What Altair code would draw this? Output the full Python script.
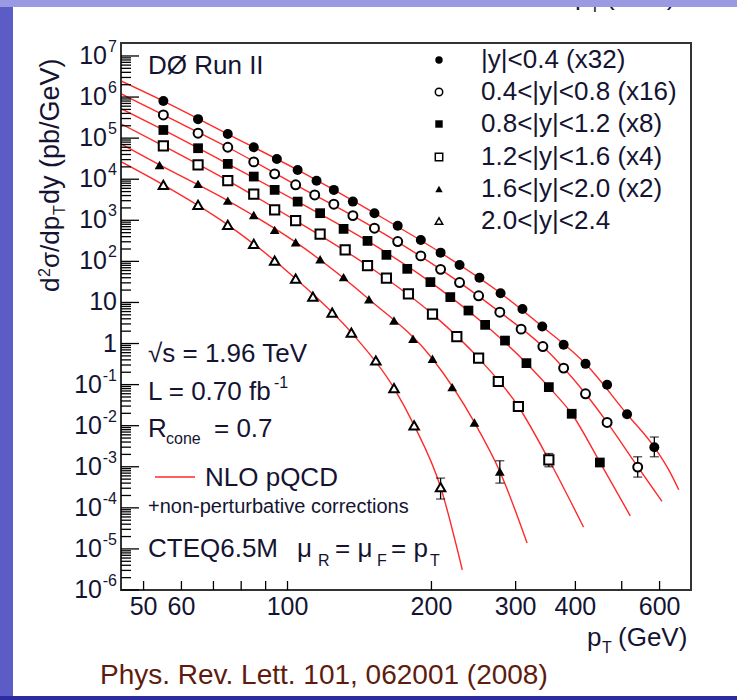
import altair as alt
import pandas as pd

# ---------------- data ----------------
labels = ["|y|<0.4 (x32)", "0.4<|y|<0.8 (x16)", "0.8<|y|<1.2 (x8)",
          "1.2<|y|<1.6 (x4)", "1.6<|y|<2.0 (x2)", "2.0<|y|<2.4"]

pt_1 = [55, 65, 75, 85, 95, 105, 115, 125, 137, 152, 170, 190, 209, 229, 252, 279, 310, 341, 378, 420, 466, 513, 585]
xs_1 = [8.0e5, 2.9e5, 1.26e5, 6.0e4, 3.1e4, 1.68e4, 9.2e3, 5.5e3, 2.85e3, 1.49e3, 7.4e2, 3.3e2, 1.63e2, 82, 40, 16.8, 6.9, 2.6, 0.93, 0.32, 0.099, 0.019, 3.0e-3]

pt_2 = [55, 65, 75, 85, 94, 104, 114, 125, 137, 152, 170, 190, 209, 229, 251, 278, 308, 342, 378, 420, 466, 540]
xs_2 = [3.67e5, 1.32e5, 6.0e4, 2.64e4, 1.35e4, 7.3e3, 4.15e3, 2.47e3, 1.30e3, 643, 303, 136, 63.9, 30.5, 14.5, 5.8, 2.24, 0.845, 0.252, 0.0597, 0.0120, 9.8e-4]

pt_3 = [55, 65, 75, 85, 94, 105, 117, 131, 147, 161, 178, 199, 219, 239, 259, 285, 316, 352, 393, 450]
xs_3 = [1.58e5, 5.68e4, 2.36e4, 1.16e4, 5.5e3, 2.85e3, 1.49e3, 618, 315, 144, 65.8, 31.3, 13.5, 6.35, 2.85, 1.18, 0.333, 0.0869, 0.0195, 1.27e-3]

pt_4 = [55, 65, 75, 85, 94, 104, 117, 132, 147, 161, 179, 201, 226, 251, 276, 304, 352]
xs_4 = [6.46e4, 2.23e4, 9.25e3, 4.32e3, 1.79e3, 984, 459, 190, 79, 39, 16.2, 5.19, 1.48, 0.441, 0.119, 0.0293, 1.48e-3]

pt_5 = [54, 65, 75, 85, 94, 104, 117, 131, 148, 167, 183, 201, 221, 246, 278]
xs_5 = [2.23e4, 7.69e3, 3.01e3, 1.35e3, 584, 293, 113, 41.3, 12.0, 3.63, 1.31, 0.425, 0.0869, 0.0120, 7.7e-4]

pt_6 = [55, 65, 75, 85, 94, 104, 113, 124, 136, 153, 167, 184, 209]
xs_6 = [7.26e3, 2.37e3, 773, 267, 104, 37.9, 13.9, 5.68, 1.85, 0.386, 0.0822, 0.0102, 3.2e-4]

# NLO pQCD curves (nodes)
cpt_1 = [44.85, 55, 75, 105, 152, 209, 279, 341, 420, 513, 585, 630, 658]
cxs_1 = [2.47e6, 8.0e5, 1.26e5, 1.68e4, 1.49e3, 1.63e2, 16.8, 2.6, 0.32, 0.019, 3.0e-3, 7.6e-4, 2.75e-4]
cpt_2 = [44.85, 55, 75, 104, 152, 209, 278, 342, 420, 466, 540, 607]
cxs_2 = [1.21e6, 3.67e5, 6.0e4, 7.3e3, 643, 63.9, 5.8, 0.845, 0.0597, 0.0120, 1.0e-3, 1.43e-4]
cpt_3 = [44.85, 55, 75, 105, 147, 199, 259, 316, 352, 393, 450, 521]
cxs_3 = [5.22e5, 1.58e5, 2.36e4, 2.85e3, 315, 31.3, 2.85, 0.333, 0.087, 0.0195, 1.3e-3, 6.4e-5]
cpt_4 = [44.85, 55, 75, 104, 147, 201, 251, 304, 352, 416]
cxs_4 = [2.23e5, 6.46e4, 9.25e3, 984, 79, 5.19, 0.441, 0.0293, 1.48e-3, 3.4e-5]
cpt_5 = [44.85, 54, 75, 104, 148, 201, 246, 278, 317]
cxs_5 = [7.2e4, 2.23e4, 3.01e3, 293, 12.0, 0.425, 0.012, 7.7e-4, 1.39e-5]
cpt_6 = [44.85, 55, 75, 104, 136, 167, 184, 209, 232]
cxs_6 = [2.67e4, 7.26e3, 773, 37.9, 1.85, 0.0822, 0.0102, 3.2e-4, 3.1e-6]

# visible error bars (last points)
err_series = [0, 1, 3, 4, 5]
err_pt = [585, 540, 352, 278, 209]
err_lo = [1.75e-3, 5.6e-4, 1.0e-3, 4.0e-4, 1.64e-4]
err_hi = [5.3e-3, 1.75e-3, 2.1e-3, 1.4e-3, 5.3e-4]

# axis ticks
xtick_vals = [50, 60, 70, 80, 90, 100, 200, 300, 400, 500, 600]
xlabel_vals = [50, 60, 100, 200, 300, 400, 600]
ymajor_exp = list(range(-6, 8))

# ---------------- build ----------------
W, H = 570, 547
FONT = "Liberation Sans"
TXT = "#141432"
XS = alt.Scale(type="log", domain=[44.85, 698], nice=False)
YS = alt.Scale(type="log", domain=[1e-6, 2.07e7], nice=False)

pts_list = [(pt_1, xs_1), (pt_2, xs_2), (pt_3, xs_3), (pt_4, xs_4), (pt_5, xs_5), (pt_6, xs_6)]
curves = [(cpt_1, cxs_1), (cpt_2, cxs_2), (cpt_3, cxs_3), (cpt_4, cxs_4), (cpt_5, cxs_5), (cpt_6, cxs_6)]
styles = [("circle", True, 100), ("circle", False, 80), ("square", True, 95),
          ("square", False, 85), ("triangle-up", True, 95), ("triangle-up", False, 90)]

one = pd.DataFrame({"a": [0]})

def xenc():
    return alt.X("pt:Q", scale=XS, axis=None)

def yenc(f="v"):
    return alt.Y(f + ":Q", scale=YS, axis=None)

def txt(s, x, y, size=26, color=TXT, align="left", baseline="alphabetic", angle=0):
    kw = dict(font=FONT, fontSize=size, color=color, align=align, baseline=baseline, text=s)
    if angle:
        kw["angle"] = angle
    return alt.Chart(one).mark_text(**kw).encode(x=alt.value(x), y=alt.value(y))

layers = []
# slide background pieces
layers.append(alt.Chart(one).mark_rect(color="white").encode(
    x=alt.value(-108), x2=alt.value(616), y=alt.value(-36), y2=alt.value(653)))
# cut-off axis title of the figure above (only its lower edge shows)
layers.append(txt("p", 454, -38))
layers.append(txt("T", 469, -31, size=16))
layers.append(txt("(GeV)", 485, -38))
layers.append(alt.Chart(one).mark_rect(color="#9a9ae2").encode(
    x=alt.value(-121), x2=alt.value(616), y=alt.value(-43), y2=alt.value(-36)))
layers.append(alt.Chart(one).mark_rect(color="#2c2ca0").encode(
    x=alt.value(-121), x2=alt.value(616), y=alt.value(653), y2=alt.value(657)))

# curves
cdf = pd.concat([pd.DataFrame({"pt": c[0], "v": c[1], "s": i}) for i, c in enumerate(curves)])
layers.append(alt.Chart(cdf).mark_line(color="#ff2a2a", strokeWidth=1.4, interpolate="monotone", clip=True).encode(
    x=xenc(), y=yenc(), detail="s:N"))

# error bars
edf = pd.DataFrame({"pt": err_pt, "lo": err_lo, "hi": err_hi, "s": err_series})
layers.append(alt.Chart(edf).mark_rule(color="black", strokeWidth=1.3).encode(
    x=xenc(), y=yenc("lo"), y2="hi:Q"))
layers.append(alt.Chart(edf).mark_tick(color="black", thickness=1.3, size=9, orient="horizontal").encode(
    x=xenc(), y=yenc("lo")))
layers.append(alt.Chart(edf).mark_tick(color="black", thickness=1.3, size=9, orient="horizontal").encode(
    x=xenc(), y=yenc("hi")))

# data points
for (p, v), (shape, filled, size) in zip(pts_list, styles):
    d = pd.DataFrame({"pt": p, "v": v})
    m = alt.Chart(d).mark_point(shape=shape, filled=filled, size=size, color="black",
                                opacity=1, strokeWidth=2, fill="black" if filled else "white")
    layers.append(m.encode(x=xenc(), y=yenc()))

# frame
layers.append(alt.Chart(one).mark_rect(fillOpacity=0, stroke="#333333", strokeWidth=2).encode(
    x=alt.value(0), x2=alt.value(W), y=alt.value(0), y2=alt.value(H)))

# y ticks (inward)
ymaj = pd.DataFrame({"v": [10.0 ** k for k in ymajor_exp]})
ymin = pd.DataFrame({"v": [m * 10.0 ** k for k in range(-6, 7) for m in range(2, 10)]})
layers.append(alt.Chart(ymaj).mark_rule(color="black", strokeWidth=1.3).encode(
    y=yenc(), x=alt.value(0), x2=alt.value(18)))
layers.append(alt.Chart(ymin).mark_rule(color="black", strokeWidth=1.3).encode(
    y=yenc(), x=alt.value(0), x2=alt.value(10)))
# x ticks (inward)
xt = pd.DataFrame({"pt": xtick_vals})
layers.append(alt.Chart(xt).mark_rule(color="black", strokeWidth=1.3).encode(
    x=xenc(), y=alt.value(H), y2=alt.value(H - 9)))

# x tick labels
xl = pd.DataFrame({"pt": xlabel_vals, "t": [str(v) for v in xlabel_vals]})
layers.append(alt.Chart(xl).mark_text(font=FONT, fontSize=25, color=TXT, baseline="alphabetic").encode(
    x=xenc(), y=alt.value(H + 25), text="t:N"))

# y tick labels: base + superscript exponent
pos = pd.DataFrame({"v": [10.0 ** k for k in ymajor_exp if k >= 2], "e": [str(k) for k in ymajor_exp if k >= 2]})
neg = pd.DataFrame({"v": [10.0 ** k for k in ymajor_exp if k < 0], "e": [str(k) for k in ymajor_exp if k < 0]})
plain = pd.DataFrame({"v": [10.0, 1.0], "t": ["10", "1"]})
lab = dict(font=FONT, fontSize=25, color=TXT, align="right", baseline="middle")
sup = dict(font=FONT, fontSize=16, color=TXT, align="right", baseline="middle", dy=-9)
layers.append(alt.Chart(pos).mark_text(**lab).encode(y=yenc(), x=alt.value(-14), text=alt.value("10")))
layers.append(alt.Chart(pos).mark_text(**sup).encode(y=yenc(), x=alt.value(-4), text="e:N"))
layers.append(alt.Chart(neg).mark_text(**lab).encode(y=yenc(), x=alt.value(-19), text=alt.value("10")))
layers.append(alt.Chart(neg).mark_text(**sup).encode(y=yenc(), x=alt.value(-4), text="e:N"))
layers.append(alt.Chart(plain).mark_text(**lab).encode(y=yenc(), x=alt.value(-4), text="t:N"))

# y title (rotated, reading upward)
ty = 249
layers.append(txt("d", -62, ty, angle=270))
layers.append(txt("2", -71, ty - 15, size=16, angle=270))
layers.append(txt("σ/dp", -62, ty - 24, angle=270))
layers.append(txt("T", -56, ty - 77, size=16, angle=270))
layers.append(txt("dy (pb/GeV)", -62, ty - 88, size=27, angle=270))

# x title
layers.append(txt("p", 466, 603))
layers.append(txt("T", 481, 610, size=16))
layers.append(txt("(GeV)", 497, 603))

# citation
layers.append(txt("Phys. Rev. Lett. 101, 062001 (2008)", -21, 641, size=28, color="#5e1c0e"))

# annotations
layers.append(txt("DØ Run II", 27, 31, size=26))
leg_y = [17, 49, 81, 114, 146, 178]
for i, (shape, filled, size) in enumerate(styles):
    layers.append(alt.Chart(one).mark_point(shape=shape, filled=filled, size=55, color="black", opacity=1,
                                            strokeWidth=1.5, fill="black" if filled else "white").encode(
        x=alt.value(318), y=alt.value(leg_y[i])))
    layers.append(txt(labels[i], 360, leg_y[i], size=26, baseline="middle"))

layers.append(txt("√s = 1.96 TeV", 27, 319))
layers.append(txt("L = 0.70 fb", 27, 357))
layers.append(txt("-1", 153, 345, size=16))
layers.append(txt("R", 27, 394))
layers.append(txt("cone", 45, 401, size=16))
layers.append(txt("= 0.7", 93, 394))
layers.append(alt.Chart(one).mark_rule(color="#ff2a2a", strokeWidth=1.6).encode(
    x=alt.value(34), x2=alt.value(74), y=alt.value(434)))
layers.append(txt("NLO pQCD", 84, 443))
layers.append(txt("+non-perturbative corrections", 27, 470, size=20))
layers.append(txt("CTEQ6.5M", 27, 514))
layers.append(txt("μ", 176, 514))
layers.append(txt("R", 197, 523, size=16))
layers.append(txt("= μ", 214, 514))
layers.append(txt("F", 256, 523, size=16))
layers.append(txt("= p", 270, 514))
layers.append(txt("T", 309, 523, size=16))

chart = alt.layer(*layers).properties(
    width=W, height=H,
    padding={"left": 121, "top": 43, "right": 46, "bottom": 110},
    autosize="none",
).configure_view(stroke=None).configure(background="#5c5cc6")

chart.save("out.html", embed_options={"renderer": "svg", "actions": False})
